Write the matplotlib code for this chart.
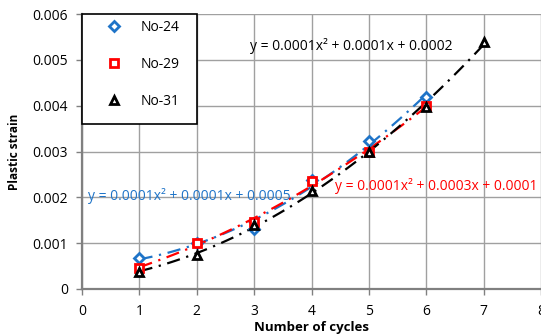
import matplotlib
matplotlib.use('Agg')
import matplotlib.pyplot as plt
from matplotlib.patches import Rectangle
import numpy as np

plt.rcParams['font.family'] = ['Open Sans', 'DejaVu Sans']

cycles_24 = [1, 2, 3, 4, 5, 6]
strain_24 = [0.00068, 0.00101, 0.00130, 0.00237, 0.00322, 0.00418]
cycles_29 = [1, 2, 3, 4, 5, 6]
strain_29 = [0.00046, 0.00101, 0.00146, 0.00235, 0.00298, 0.00400]
cycles_31 = [1, 2, 3, 4, 5, 6, 7]
strain_31 = [0.00038, 0.00075, 0.00140, 0.00214, 0.00298, 0.00397, 0.00540]

names = ['No-24', 'No-29', 'No-31']
colors = ['#1f74c8', '#ff0000', '#000000']
markers = ['D', 's', '^']
eqs = ['y = 0.0001x² + 0.0001x + 0.0005',
       'y = 0.0001x² + 0.0003x + 0.0001',
       'y = 0.0001x² + 0.0001x + 0.0002']
eq_pos = [(0.1, 0.00203), (4.41, 0.00225), (2.93, 0.00530)]

fig = plt.figure(figsize=(5.41, 3.36), dpi=100)
ax = fig.add_axes([0.1516, 0.140, 0.8484, 0.818])

series = [(cycles_24, strain_24), (cycles_29, strain_29), (cycles_31, strain_31)]
handles = []
for (x, y), name, c, m, eq, pos in zip(series, names, colors, markers, eqs, eq_pos):
    coef = np.polyfit(x, y, 2)
    xs = np.linspace(x[0], x[-1], 100)
    ax.plot(xs, np.polyval(coef, xs), color=c, lw=1.6,
            dashes=(6, 3, 1, 3), zorder=3)
    h, = ax.plot(x, y, linestyle='none', marker=m, ms=6 if m != 'D' else 5.5,
                 mfc='white', mec=c, mew=2.0, zorder=4, label=name)
    handles.append(h)
    ax.text(pos[0], pos[1], eq, color=c, fontsize=10, ha='left', va='center',
            zorder=5)

ax.set_xlim(0, 8)
ax.set_ylim(0, 0.006)
ax.set_xticks(range(0, 9))
ax.set_yticks([0, 0.001, 0.002, 0.003, 0.004, 0.005, 0.006])
ax.set_yticklabels(['0', '0.001', '0.002', '0.003', '0.004', '0.005', '0.006'])
ax.grid(True, color='#a0a0a0', lw=1.0)
ax.set_axisbelow(True)
for s in ['top', 'right']:
    ax.spines[s].set_visible(False)
for s in ['left', 'bottom']:
    ax.spines[s].set_color('#808080')
    ax.spines[s].set_linewidth(1.6)
ax.tick_params(axis='both', labelsize=10, color='#808080', length=4, width=1)
ax.tick_params(axis='x', pad=7)
ax.tick_params(axis='y', pad=6)

ax.set_xlabel('Number of cycles', fontsize=9.5, fontweight='bold', labelpad=1)
ax.set_ylabel('Plastic strain', fontsize=8.5, fontweight='bold', labelpad=8)

# legend box
ax.add_patch(Rectangle((0.0, 0.0036), 2.0, 0.0024, facecolor='white',
                       edgecolor='black', lw=1.2, zorder=6, clip_on=False))
leg = ax.legend(handles=handles, loc='upper left', bbox_to_anchor=(0.045, 0.99),
                fontsize=10, frameon=False, labelspacing=1.6,
                borderpad=0.0, handlelength=1.2, handletextpad=1.3,
                borderaxespad=0.2)
leg.set_zorder(7)

fig.savefig('out.png', dpi=100)
